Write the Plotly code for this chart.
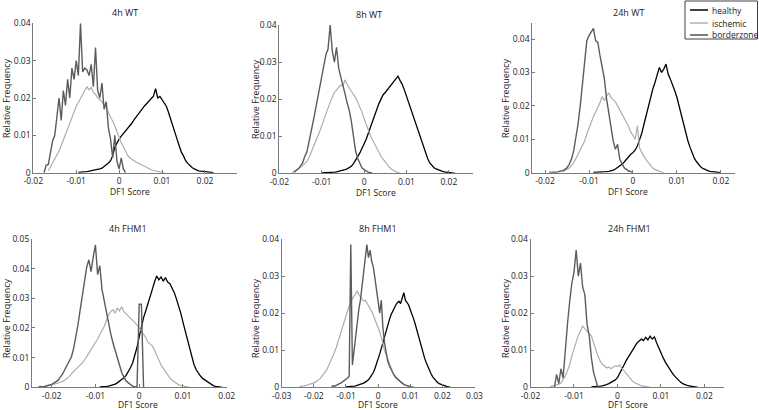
import numpy as np
import plotly.graph_objects as go

W, H = 759, 410
BIN = 0.0005

titles = ["4h WT", "8h WT", "24h WT", "4h FHM1", "8h FHM1", "24h FHM1"]
series_names = ["healthy", "ischemic", "borderzone"]
series_colors = ["#000000", "#adadad", "#5c5c5c"]
series_widths = [1.3, 1.2, 1.4]

# ---------------- 4h WT ----------------
wt4_healthy_x0 = -0.0095
wt4_healthy = [0.0001, 0.0001, 0.0002, 0.0002, 0.0003, 0.0004, 0.0005, 0.0006, 0.0006, 0.0008,
               0.0010, 0.0012, 0.0016, 0.0020, 0.0026, 0.0032, 0.0045, 0.0068, 0.0080, 0.0090,
               0.0098, 0.0105, 0.0110, 0.0120, 0.0126, 0.0133, 0.0142, 0.0150, 0.0158, 0.0165,
               0.0172, 0.0180, 0.0186, 0.0192, 0.0198, 0.0205, 0.0225, 0.0200, 0.0204, 0.0195,
               0.0188, 0.0178, 0.0162, 0.0145, 0.0130, 0.0108, 0.0090, 0.0072, 0.0055, 0.0045,
               0.0032, 0.0025, 0.0018, 0.0014, 0.0010, 0.0007, 0.0005, 0.0004, 0.0003, 0.0002,
               0.0002, 0.0001, 0.0001, 0.0]
wt4_isch_x0 = -0.0165
wt4_isch = [0.0005, 0.0015, 0.0025, 0.0035, 0.0045, 0.0058, 0.0072, 0.0088, 0.0100, 0.0118,
            0.0130, 0.0150, 0.0162, 0.0178, 0.0188, 0.0200, 0.0212, 0.0220, 0.0230, 0.0222,
            0.0228, 0.0215, 0.0210, 0.0200, 0.0196, 0.0190, 0.0180, 0.0176, 0.0160, 0.0150,
            0.0138, 0.0125, 0.0112, 0.0095, 0.0080, 0.0068, 0.0055, 0.0046, 0.0040, 0.0035,
            0.0032, 0.0028, 0.0025, 0.0022, 0.0018, 0.0016, 0.0012, 0.0010, 0.0008, 0.0006,
            0.0004, 0.0003, 0.0002, 0.0001, 0.0]
wt4_border_x0 = -0.0175
wt4_border = [0.0, 0.0020, 0.0022, 0.0060, 0.0085, 0.0100, 0.0150, 0.0200, 0.0140, 0.0220,
              0.0180, 0.0250, 0.0200, 0.0280, 0.0250, 0.0300, 0.0260, 0.0400, 0.0270, 0.0280,
              0.0275, 0.0260, 0.0290, 0.0230, 0.0335, 0.0220, 0.0200, 0.0240, 0.0170, 0.0190,
              0.0120, 0.0090, 0.0040, 0.0100, 0.0030, 0.0010, 0.0040, 0.0010, 0.0]

# ---------------- 8h WT ----------------
wt8_healthy_x0 = -0.0100
wt8_healthy = [0.0001, 0.0001, 0.0001, 0.0002, 0.0002, 0.0002, 0.0003, 0.0004, 0.0005, 0.0006,
               0.0008, 0.0010, 0.0012, 0.0015, 0.0019, 0.0026, 0.0034, 0.0045, 0.0055, 0.0066,
               0.0078, 0.0092, 0.0108, 0.0125, 0.0140, 0.0155, 0.0172, 0.0188, 0.0200, 0.0212,
               0.0218, 0.0225, 0.0232, 0.0240, 0.0248, 0.0252, 0.0262, 0.0250, 0.0240, 0.0225,
               0.0208, 0.0192, 0.0175, 0.0158, 0.0140, 0.0125, 0.0108, 0.0090, 0.0072, 0.0058,
               0.0040, 0.0028, 0.0020, 0.0015, 0.0012, 0.0009, 0.0007, 0.0005, 0.0004, 0.0003,
               0.0002, 0.0001, 0.0001, 0.0]
wt8_isch_x0 = -0.0170
wt8_isch = [0.0002, 0.0005, 0.0008, 0.0012, 0.0016, 0.0020, 0.0025, 0.0032, 0.0042, 0.0055,
            0.0068, 0.0082, 0.0095, 0.0112, 0.0128, 0.0145, 0.0160, 0.0175, 0.0192, 0.0205,
            0.0218, 0.0225, 0.0232, 0.0238, 0.0235, 0.0252, 0.0240, 0.0230, 0.0220, 0.0212,
            0.0205, 0.0192, 0.0180, 0.0165, 0.0148, 0.0132, 0.0115, 0.0102, 0.0090, 0.0078,
            0.0066, 0.0055, 0.0046, 0.0038, 0.0030, 0.0022, 0.0016, 0.0011, 0.0007, 0.0004,
            0.0002, 0.0]
wt8_border_x0 = -0.0165
wt8_border = [0.0003, 0.0008, 0.0012, 0.0020, 0.0028, 0.0045, 0.0058, 0.0085, 0.0110, 0.0140,
              0.0170, 0.0200, 0.0235, 0.0260, 0.0290, 0.0320, 0.0335, 0.0400, 0.0330, 0.0300,
              0.0340, 0.0285, 0.0260, 0.0240, 0.0215, 0.0190, 0.0170, 0.0140, 0.0100, 0.0060,
              0.0040, 0.0025, 0.0015, 0.0010, 0.0006, 0.0003, 0.0002, 0.0]

# ---------------- 24h WT ----------------
wt24_healthy_x0 = -0.0090
wt24_healthy = [0.0001, 0.0001, 0.0001, 0.0002, 0.0002, 0.0002, 0.0003, 0.0004, 0.0005, 0.0008,
                0.0011, 0.0015, 0.0020, 0.0025, 0.0032, 0.0040, 0.0048, 0.0055, 0.0060, 0.0068,
                0.0080, 0.0098, 0.0118, 0.0145, 0.0172, 0.0198, 0.0225, 0.0250, 0.0270, 0.0290,
                0.0315, 0.0300, 0.0310, 0.0325, 0.0295, 0.0280, 0.0265, 0.0245, 0.0225, 0.0198,
                0.0170, 0.0145, 0.0118, 0.0095, 0.0075, 0.0058, 0.0042, 0.0032, 0.0022, 0.0016,
                0.0012, 0.0008, 0.0006, 0.0004, 0.0003, 0.0002, 0.0001, 0.0001, 0.0]
wt24_isch_x0 = -0.0160
wt24_isch = [0.0003, 0.0006, 0.0010, 0.0014, 0.0022, 0.0030, 0.0042, 0.0055, 0.0068, 0.0080,
             0.0095, 0.0115, 0.0130, 0.0150, 0.0168, 0.0180, 0.0195, 0.0210, 0.0228, 0.0215,
             0.0230, 0.0238, 0.0225, 0.0218, 0.0212, 0.0200, 0.0188, 0.0178, 0.0165, 0.0150,
             0.0138, 0.0122, 0.0112, 0.0100, 0.0140, 0.0075, 0.0060, 0.0048, 0.0038, 0.0030,
             0.0020, 0.0014, 0.0010, 0.0006, 0.0004, 0.0002, 0.0]
wt24_border_x0 = -0.0190
wt24_border = [0.0002, 0.0000, 0.0002, 0.0001, 0.0003, 0.0004, 0.0006, 0.0010, 0.0015, 0.0025,
               0.0040, 0.0065, 0.0100, 0.0145, 0.0200, 0.0265, 0.0340, 0.0395, 0.0410, 0.0420,
               0.0432, 0.0395, 0.0390, 0.0350, 0.0320, 0.0280, 0.0220, 0.0180, 0.0140, 0.0095,
               0.0070, 0.0085, 0.0040, 0.0025, 0.0015, 0.0010, 0.0005, 0.0003, 0.0]

# ---------------- 4h FHM1 ----------------
fh4_healthy_x0 = -0.0090
fh4_healthy = [0.0001, 0.0001, 0.0002, 0.0003, 0.0004, 0.0006, 0.0008, 0.0011, 0.0015, 0.0020,
               0.0025, 0.0032, 0.0040, 0.0052, 0.0066, 0.0082, 0.0105, 0.0135, 0.0170, 0.0205,
               0.0235, 0.0258, 0.0285, 0.0305, 0.0330, 0.0355, 0.0375, 0.0362, 0.0372, 0.0358,
               0.0370, 0.0355, 0.0350, 0.0335, 0.0320, 0.0298, 0.0275, 0.0250, 0.0220, 0.0190,
               0.0160, 0.0128, 0.0100, 0.0078, 0.0060, 0.0048, 0.0038, 0.0030, 0.0025, 0.0018,
               0.0012, 0.0008, 0.0005, 0.0003, 0.0002, 0.0001, 0.0]
fh4_isch_x0 = -0.0215
fh4_isch = [0.0002, 0.0004, 0.0005, 0.0007, 0.0010, 0.0012, 0.0015, 0.0018, 0.0020, 0.0025,
            0.0030, 0.0036, 0.0045, 0.0052, 0.0060, 0.0068, 0.0076, 0.0082, 0.0092, 0.0102,
            0.0115, 0.0128, 0.0138, 0.0150, 0.0162, 0.0178, 0.0190, 0.0205, 0.0225, 0.0245,
            0.0255, 0.0262, 0.0250, 0.0268, 0.0258, 0.0272, 0.0255, 0.0248, 0.0240, 0.0232,
            0.0228, 0.0218, 0.0210, 0.0200, 0.0190, 0.0180, 0.0168, 0.0152, 0.0145, 0.0140,
            0.0125, 0.0108, 0.0090, 0.0075, 0.0064, 0.0052, 0.0042, 0.0032, 0.0024, 0.0018,
            0.0013, 0.0009, 0.0006, 0.0004, 0.0002, 0.0001, 0.0]
fh4_border_x0 = -0.0230
fh4_border = [0.0002, 0.0003, 0.0001, 0.0004, 0.0005, 0.0008, 0.0010, 0.0014, 0.0018, 0.0024,
              0.0035, 0.0045, 0.0060, 0.0075, 0.0090, 0.0102, 0.0130, 0.0165, 0.0210, 0.0260,
              0.0310, 0.0360, 0.0405, 0.0430, 0.0390, 0.0440, 0.0480, 0.0380, 0.0410, 0.0330,
              0.0290, 0.0250, 0.0215, 0.0180, 0.0150, 0.0125, 0.0095, 0.0070, 0.0050, 0.0035,
              0.0022, 0.0015, 0.0008, 0.0004, 0.0002, 0.0, 0.0280, 0.0280, 0.0]

# ---------------- 8h FHM1 ----------------
fh8_healthy_x0 = -0.0100
fh8_healthy = [0.0001, 0.0001, 0.0002, 0.0002, 0.0003, 0.0003, 0.0004, 0.0005, 0.0006, 0.0007,
               0.0009, 0.0011, 0.0014, 0.0017, 0.0020, 0.0026, 0.0032, 0.0040, 0.0050, 0.0062,
               0.0075, 0.0090, 0.0105, 0.0122, 0.0138, 0.0155, 0.0168, 0.0182, 0.0195, 0.0205,
               0.0215, 0.0222, 0.0228, 0.0232, 0.0226, 0.0240, 0.0255, 0.0235, 0.0230, 0.0222,
               0.0210, 0.0200, 0.0186, 0.0172, 0.0155, 0.0138, 0.0122, 0.0105, 0.0090, 0.0078,
               0.0066, 0.0055, 0.0045, 0.0036, 0.0028, 0.0022, 0.0017, 0.0013, 0.0010, 0.0008,
               0.0006, 0.0004, 0.0003, 0.0002, 0.0001, 0.0]
fh8_isch_x0 = -0.0245
fh8_isch = [0.0002, 0.0002, 0.0003, 0.0004, 0.0005, 0.0006, 0.0007, 0.0008, 0.0010, 0.0012,
            0.0014, 0.0016, 0.0020, 0.0024, 0.0029, 0.0034, 0.0040, 0.0047, 0.0056, 0.0065,
            0.0074, 0.0085, 0.0096, 0.0108, 0.0122, 0.0135, 0.0150, 0.0168, 0.0182, 0.0195,
            0.0205, 0.0220, 0.0228, 0.0240, 0.0245, 0.0252, 0.0260, 0.0250, 0.0245, 0.0238,
            0.0232, 0.0235, 0.0228, 0.0222, 0.0215, 0.0205, 0.0195, 0.0185, 0.0175, 0.0165,
            0.0150, 0.0135, 0.0115, 0.0100, 0.0088, 0.0075, 0.0062, 0.0052, 0.0042, 0.0034,
            0.0028, 0.0022, 0.0018, 0.0014, 0.0010, 0.0008, 0.0006, 0.0004, 0.0002, 0.0001, 0.0]
fh8_border_x0 = -0.0145
fh8_border = [0.0002, 0.0004, 0.0003, 0.0006, 0.0008, 0.0010, 0.0012, 0.0015, 0.0018, 0.0020,
              0.0025, 0.0030, 0.0385, 0.0060, 0.0100, 0.0140, 0.0180, 0.0210, 0.0235, 0.0270,
              0.0310, 0.0355, 0.0385, 0.0350, 0.0370, 0.0340, 0.0325, 0.0295, 0.0260, 0.0225,
              0.0200, 0.0235, 0.0160, 0.0120, 0.0090, 0.0070, 0.0058, 0.0048, 0.0040, 0.0032,
              0.0026, 0.0022, 0.0018, 0.0014, 0.0010, 0.0008, 0.0006, 0.0004, 0.0003, 0.0002,
              0.0001, 0.0]

# ---------------- 24h FHM1 ----------------
fh24_healthy_x0 = -0.0060
fh24_healthy = [0.0001, 0.0001, 0.0002, 0.0002, 0.0003, 0.0004, 0.0005, 0.0007, 0.0010, 0.0013,
                0.0016, 0.0020, 0.0026, 0.0036, 0.0048, 0.0060, 0.0072, 0.0082, 0.0090, 0.0100,
                0.0112, 0.0120, 0.0125, 0.0130, 0.0126, 0.0135, 0.0128, 0.0138, 0.0130, 0.0136,
                0.0120, 0.0105, 0.0092, 0.0080, 0.0068, 0.0058, 0.0048, 0.0040, 0.0032, 0.0025,
                0.0018, 0.0014, 0.0010, 0.0007, 0.0005, 0.0004, 0.0003, 0.0002, 0.0001, 0.0]
fh24_isch_x0 = -0.0155
fh24_isch = [0.0002, 0.0003, 0.0004, 0.0005, 0.0008, 0.0012, 0.0020, 0.0030, 0.0045, 0.0060,
             0.0085, 0.0105, 0.0122, 0.0140, 0.0152, 0.0165, 0.0158, 0.0150, 0.0145, 0.0138,
             0.0120, 0.0100, 0.0085, 0.0072, 0.0062, 0.0058, 0.0052, 0.0055, 0.0050, 0.0054,
             0.0058, 0.0056, 0.0060, 0.0052, 0.0045, 0.0035, 0.0028, 0.0022, 0.0016, 0.0012,
             0.0009, 0.0006, 0.0004, 0.0003, 0.0002, 0.0001, 0.0]
fh24_border_x0 = -0.0145
fh24_border = [0.0, 0.0035, 0.0010, 0.0050, 0.0025, 0.0110, 0.0170, 0.0230, 0.0280, 0.0310,
               0.0370, 0.0300, 0.0335, 0.0270, 0.0250, 0.0170, 0.0140, 0.0080, 0.0040, 0.0020,
               0.0]

# ---------------- axes ticks ----------------
xt_a = [-0.02, -0.01, 0, 0.01, 0.02]
xt_a_text = ["-0.02", "-0.01", "0", "0.01", "0.02"]
xt_b = [-0.03, -0.02, -0.01, 0, 0.01, 0.02, 0.03]
xt_b_text = ["-0.03", "-0.02", "-0.01", "0", "0.01", "0.02", "0.03"]
yt_4 = [0, 0.01, 0.02, 0.03, 0.04]
yt_4_text = ["0", "0.01", "0.02", "0.03", "0.04"]
yt_5 = [0, 0.01, 0.02, 0.03, 0.04, 0.05]
yt_5_text = ["0", "0.01", "0.02", "0.03", "0.04", "0.05"]

panels = [
    [(wt4_healthy_x0, wt4_healthy), (wt4_isch_x0, wt4_isch), (wt4_border_x0, wt4_border)],
    [(wt8_healthy_x0, wt8_healthy), (wt8_isch_x0, wt8_isch), (wt8_border_x0, wt8_border)],
    [(wt24_healthy_x0, wt24_healthy), (wt24_isch_x0, wt24_isch), (wt24_border_x0, wt24_border)],
    [(fh4_healthy_x0, fh4_healthy), (fh4_isch_x0, fh4_isch), (fh4_border_x0, fh4_border)],
    [(fh8_healthy_x0, fh8_healthy), (fh8_isch_x0, fh8_isch), (fh8_border_x0, fh8_border)],
    [(fh24_healthy_x0, fh24_healthy), (fh24_isch_x0, fh24_isch), (fh24_border_x0, fh24_border)],
]

# layout geometry in pixels: (x_left, x_right), (y_top, y_bottom), ranges
geom = [
    dict(px=(33.3, 236.7), py=(23.3, 172.7), xr=[-0.02, 0.0274], yr=[0, 0.04], xt=(xt_a, xt_a_text), yt=(yt_4, yt_4_text)),
    dict(px=(279.3, 473.0), py=(25.0, 173.3), xr=[-0.02, 0.0257], yr=[0, 0.04], xt=(xt_a, xt_a_text), yt=(yt_4, yt_4_text)),
    dict(px=(532.3, 735.0), py=(23.3, 172.7), xr=[-0.0229, 0.0232], yr=[0, 0.0447], xt=(xt_a, xt_a_text), yt=(yt_4, yt_4_text)),
    dict(px=(32.0, 226.7), py=(239.0, 387.3), xr=[-0.0245, 0.02], yr=[0, 0.05], xt=(xt_a, xt_a_text), yt=(yt_5, yt_5_text)),
    dict(px=(281.7, 474.5), py=(239.0, 387.3), xr=[-0.03, 0.03], yr=[0, 0.04], xt=(xt_b, xt_b_text), yt=(yt_4, yt_4_text)),
    dict(px=(530.5, 724.0), py=(239.0, 387.3), xr=[-0.02, 0.0245], yr=[0, 0.04], xt=(xt_a, xt_a_text), yt=(yt_4, yt_4_text)),
]
title_pos = [(125, 12), (369, 14), (628, 12), (128, 228), (378, 228), (629, 228)]
xlabel_pos = [(130, 191), (376, 192), (628, 191), (138, 404), (378, 404), (628, 404)]
ylabel_pos = [(6, 98), (255, 99), (505, 98), (6, 318), (255, 318), (505, 318)]

FONT = "Open Sans"
TXT = "#1a1a1a"
AX = "#7a7a7a"

def fx(p):
    return p / W

def fy(p):
    return 1 - p / H

fig = go.Figure()
layout = dict(width=W, height=H, margin=dict(l=0, r=0, t=0, b=0, pad=0, autoexpand=False),
              autosize=False, paper_bgcolor="white", plot_bgcolor="white", showlegend=False,
              font=dict(family=FONT, size=9, color=TXT))
annotations = []
shapes = []

for i, (series, g) in enumerate(zip(panels, geom)):
    k = "" if i == 0 else str(i + 1)
    for j, (x0, vals) in enumerate(series):
        xs = [round(x0 + BIN * n, 6) for n in range(len(vals))]
        fig.add_trace(go.Scatter(
            x=xs, y=vals, mode="lines", line_shape="linear",
            line=dict(color=series_colors[j], width=series_widths[j]),
            name=series_names[j], xaxis="x" + k, yaxis="y" + k, hoverinfo="skip"))
    common = dict(showline=True, linecolor=AX, linewidth=1, ticks="inside", ticklen=3,
                  tickcolor=AX, tickwidth=1, showgrid=False, zeroline=False, automargin=False,
                  tickfont=dict(family=FONT, size=8.5, color=TXT))
    layout["xaxis" + k] = dict(domain=[fx(g["px"][0]), fx(g["px"][1])], range=g["xr"],
                               anchor="y" + k, tickvals=g["xt"][0], ticktext=g["xt"][1], **common)
    layout["yaxis" + k] = dict(domain=[fy(g["py"][1]), fy(g["py"][0])], range=g["yr"],
                               anchor="x" + k, tickvals=g["yt"][0], ticktext=g["yt"][1], **common)
    tx, ty = title_pos[i]
    annotations.append(dict(text=titles[i], x=fx(tx), y=fy(ty), xref="paper", yref="paper",
                            showarrow=False, xanchor="center", yanchor="middle",
                            font=dict(family=FONT, size=9, color=TXT)))
    lx, ly = xlabel_pos[i]
    annotations.append(dict(text="DF1 Score", x=fx(lx), y=fy(ly), xref="paper", yref="paper",
                            showarrow=False, xanchor="center", yanchor="middle",
                            font=dict(family=FONT, size=8.5, color=TXT)))
    vx, vy = ylabel_pos[i]
    annotations.append(dict(text="Relative Frequency", x=fx(vx), y=fy(vy), xref="paper", yref="paper",
                            showarrow=False, xanchor="center", yanchor="middle", textangle=-90,
                            font=dict(family=FONT, size=9, color=TXT)))

# legend box (manual, top right)
shapes.append(dict(type="rect", xref="paper", yref="paper", x0=fx(685), x1=fx(757.5), y0=fy(39), y1=fy(1),
                   line=dict(color="#404040", width=1), fillcolor="white"))
for j, ly in enumerate([10, 23, 35]):
    shapes.append(dict(type="line", xref="paper", yref="paper", x0=fx(690), x1=fx(708), y0=fy(ly), y1=fy(ly),
                       line=dict(color=series_colors[j], width=series_widths[j] + 0.2)))
    annotations.append(dict(text=series_names[j], x=fx(710), y=fy(ly), xref="paper", yref="paper",
                            showarrow=False, xanchor="left", yanchor="middle",
                            font=dict(family=FONT, size=8.5, color=TXT)))

layout["annotations"] = annotations
layout["shapes"] = shapes
fig.update_layout(**layout)
fig.write_html("out.html", config={"displayModeBar": False},
               post_script="document.body.style.margin='0';document.body.style.padding='0';")
